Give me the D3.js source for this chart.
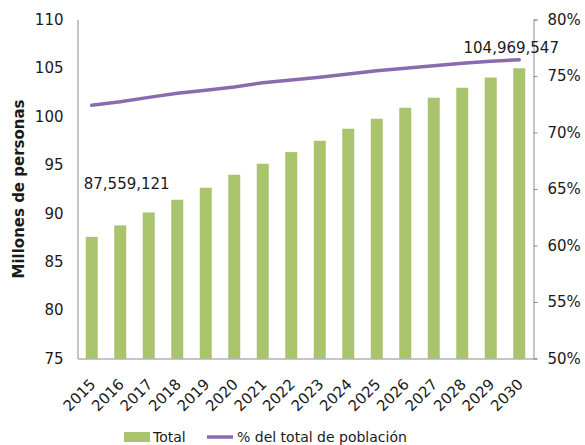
<!DOCTYPE html>
<html><head><meta charset="utf-8">
<script src="https://cdn.jsdelivr.net/npm/d3@7/dist/d3.min.js"></script>
<style>
body{margin:0;background:#fff;}
text{font-family:"DejaVu Sans",Verdana,sans-serif;fill:#1a1a1a;}
</style></head>
<body><svg id="c" width="585" height="445"></svg>
<script>
const years = ["2015","2016","2017","2018","2019","2020","2021","2022","2023","2024","2025","2026","2027","2028","2029","2030"];
const totals = [87.559121, 88.74, 90.08, 91.39, 92.63, 93.97, 95.11, 96.31, 97.48, 98.72, 99.75, 100.89, 101.92, 102.95, 104.01, 104.969547];
const pctTotal = [72.41, 72.73, 73.11, 73.47, 73.73, 74.03, 74.41, 74.65, 74.89, 75.18, 75.47, 75.68, 75.91, 76.12, 76.30, 76.44];
const leftTicks = [75, 80, 85, 90, 95, 100, 105, 110];
const rightTicks = [50, 55, 60, 65, 70, 75, 80];
const dataLabels = [{i:0, text:"87,559,121"}, {i:15, text:"104,969,547"}];
const legendItems = ["Total", "% del total de población"];
const yTitle = "Millones de personas";

const svg = d3.select("#c");
const L = 77.5, R = 533.5, T = 19.5, B = 358.5;
const x = d3.scaleBand().domain(years).range([L, R]).paddingInner(0.58).paddingOuter(0.29);
const y = d3.scaleLinear().domain([75, 110]).range([B, T]);
const y2 = d3.scaleLinear().domain([50, 80]).range([B, T]);
const barColor = "#a9c46c", lineColor = "#8a6bb0", axisColor = "#8c8c8c";

// bars
svg.append("g").selectAll("rect").data(totals).join("rect")
  .attr("x", (d,i) => x(years[i]))
  .attr("width", x.bandwidth())
  .attr("y", d => y(d))
  .attr("height", d => B - y(d))
  .attr("fill", barColor);

// left axis
const ga = svg.append("g").attr("transform", `translate(${L},0)`)
  .call(d3.axisLeft(y).tickValues(leftTicks).tickSize(0).tickPadding(14));
ga.select(".domain").attr("stroke", axisColor);
ga.selectAll("text").style("font-size","15px").style("fill","#1a1a1a");

// right axis
const gr = svg.append("g").attr("transform", `translate(${R},0)`)
  .call(d3.axisRight(y2).tickValues(rightTicks).tickSize(4).tickPadding(10).tickFormat(d => d + "%"));
gr.select(".domain").attr("stroke", axisColor);
gr.selectAll("line").attr("stroke", axisColor);
gr.selectAll("text").style("font-size","15px").style("fill","#1a1a1a");

// bottom axis
const gb = svg.append("g").attr("transform", `translate(0,${B})`)
  .call(d3.axisBottom(x).tickSize(0).tickPadding(0));
gb.select(".domain").attr("stroke", axisColor);
gb.selectAll("text")
  .style("font-size","15px").style("fill","#1a1a1a")
  .attr("text-anchor","end")
  .attr("transform","translate(1,23) rotate(-45)")
  .attr("dy","0.35em").attr("y",0);

// line
const line = d3.line().x((d,i) => x(years[i]) + x.bandwidth()/2).y(d => y2(d));
svg.append("path").datum(pctTotal).attr("d", line)
  .attr("fill","none").attr("stroke", lineColor).attr("stroke-width", 3.5).attr("stroke-linecap","round");

// data labels
svg.append("text").attr("x", x(years[0]) - 2).attr("y", y(totals[0]) - 48)
  .style("font-size","15px").text(dataLabels[0].text);
svg.append("text").attr("x", x(years[15]) + x.bandwidth()/2 - 8).attr("y", y(totals[15]) - 15)
  .attr("text-anchor","middle").style("font-size","15px").text(dataLabels[1].text);

// y title
svg.append("text").attr("transform",`translate(24,${(T+B)/2}) rotate(-90)`)
  .attr("text-anchor","middle").style("font-size","15px").style("font-weight","bold").text(yTitle);

// legend
const lg = svg.append("g");
lg.append("rect").attr("x",124).attr("y",432).attr("width",26).attr("height",10).attr("fill",barColor);
lg.append("text").attr("x",153).attr("y",442).style("font-size","14px").text(legendItems[0]);
lg.append("line").attr("x1",207).attr("x2",233).attr("y1",437).attr("y2",437).attr("stroke",lineColor).attr("stroke-width",3.5);
lg.append("text").attr("x",237).attr("y",442).style("font-size","14px").text(legendItems[1]);
</script></body></html>
